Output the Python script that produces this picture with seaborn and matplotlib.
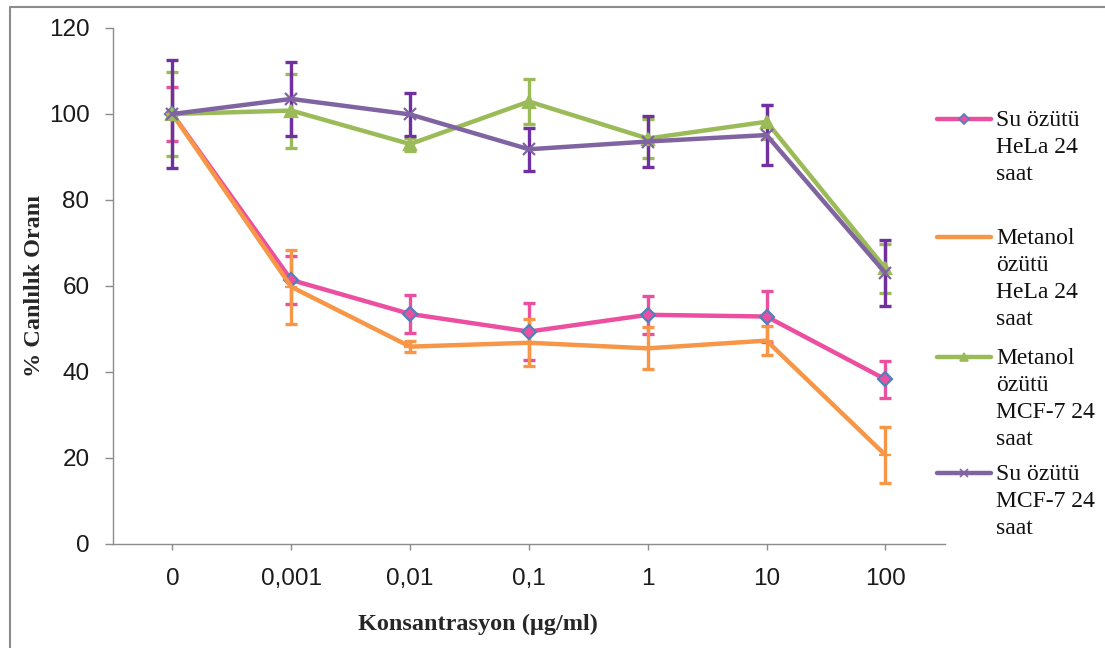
import matplotlib
matplotlib.use("Agg")
import matplotlib.pyplot as plt
from matplotlib.lines import Line2D
import seaborn as sns
import pandas as pd

# Concentration categories (µg/ml)
konsantrasyon = ["0", "0,001", "0,01", "0,1", "1", "10", "100"]

# % viability
su_hela = [100, 61.4, 53.5, 49.4, 53.3, 52.9, 38.3]
su_hela_err = [6.2, 5.6, 4.4, 6.7, 4.4, 6.0, 4.3]

metanol_hela = [100, 59.8, 45.9, 46.8, 45.5, 47.3, 20.7]
metanol_hela_err = [0.0, 8.6, 1.2, 5.5, 4.9, 3.3, 6.4]

metanol_mcf7 = [100, 100.8, 93.0, 102.9, 94.3, 98.2, 64.1]
metanol_mcf7_err = [9.8, 8.6, 1.5, 5.3, 4.5, 4.0, 5.7]

su_mcf7 = [100, 103.5, 99.9, 91.8, 93.6, 95.1, 63.0]
su_mcf7_err = [12.6, 8.6, 5.0, 5.0, 5.9, 7.0, 7.6]

series_names = ["Su özütü\nHeLa 24\nsaat",
                "Metanol\nözütü\nHeLa 24\nsaat",
                "Metanol\nözütü\nMCF-7 24\nsaat",
                "Su özütü\nMCF-7 24\nsaat"]

sns.set_style("white")
plt.rcParams["font.family"] = ["Liberation Serif", "DejaVu Serif"]

# colours / markers per series: line, errorbar, marker, marker face, marker edge, size
styles = [
    ("#EC4FA0", "#EC4FA0", "D", "#EC4FA0", "#4F81BD", 7.5),
    ("#F79646", "#F79646", "_", "#F79646", "#F79646", 9),
    ("#9BBB59", "#9BBB59", "^", "#9BBB59", "#9BBB59", 8),
    ("#8064A2", "#7030A0", "x", "#8064A2", "#8064A2", 8),
]

values = [su_hela, metanol_hela, metanol_mcf7, su_mcf7]
errors = [su_hela_err, metanol_hela_err, metanol_mcf7_err, su_mcf7_err]

rows = []
for name, vals, errs in zip(series_names, values, errors):
    for i, (v, e) in enumerate(zip(vals, errs)):
        rows.append({"seri": name, "x": i, "kons": konsantrasyon[i], "oran": v, "err": e})
df = pd.DataFrame(rows)

fig = plt.figure(figsize=(11.05, 6.48), dpi=100)
ax = fig.add_axes([0.1023, 0.1605, 0.7527, 0.7963])

for name, st in zip(series_names, styles):
    d = df[df["seri"] == name]
    ax.errorbar(d["x"], d["oran"], yerr=d["err"], fmt="none", ecolor=st[1],
                elinewidth=2.4, capsize=4.5, capthick=2.4, zorder=2)

for name, st in zip(series_names, styles):
    d = df[df["seri"] == name]
    sns.lineplot(data=d, x="x", y="oran", ax=ax, color=st[0], linewidth=3.2,
                 marker=st[2], markersize=st[5], markerfacecolor=st[3],
                 markeredgecolor=st[4], markeredgewidth=1.6, zorder=3,
                 legend=False)

ax.set_xlim(-0.5, 6.5)
ax.set_ylim(0, 120)
ax.set_yticks(range(0, 121, 20))
ax.set_xticks(range(len(konsantrasyon)))
ax.set_xticklabels(konsantrasyon)

for sp in ["top", "right"]:
    ax.spines[sp].set_visible(False)
for sp in ["left", "bottom"]:
    ax.spines[sp].set_color("#8C8C8C")
    ax.spines[sp].set_linewidth(1.0)

ax.tick_params(axis="both", direction="out", color="#8C8C8C", width=1.0,
               labelsize=17.5, labelcolor="#1a1a1a", bottom=True, left=True)
ax.tick_params(axis="y", length=6, pad=11)
ax.tick_params(axis="x", length=4, pad=13)
for lab in ax.get_xticklabels() + ax.get_yticklabels():
    lab.set_family("Liberation Sans")

ax.set_xlabel("Konsantrasyon (µg/ml)", fontsize=17.5, fontweight="bold")
ax.set_ylabel("% Canlılık Oranı", fontsize=17.5, fontweight="bold")
ax.xaxis.set_label_coords(0.439, -0.136)
ax.yaxis.set_label_coords(-0.082, 0.5)

# Excel-style legend on the right
W, H = 1105, 648
handle_y = [119, 237, 357, 473]
for name, st, hy in zip(series_names, styles, handle_y):
    yf = 1 - hy / H
    fig.add_artist(Line2D([937 / W, 991 / W], [yf, yf], color=st[0], linewidth=3.2))
    fig.add_artist(Line2D([964 / W], [yf], marker=st[2], markersize=st[5] - 2,
                          markerfacecolor=st[3], markeredgecolor=st[4],
                          markeredgewidth=1.2, linestyle="none"))
    fig.text(996 / W, 1 - (hy - 9) / H, name, fontsize=17, va="top", ha="left",
             linespacing=1.38, color="#111111")

# outer frame edges visible in the screenshot
fig.add_artist(Line2D([10 / W, 10 / W], [0, 1 - 7 / H], color="#8C8C8C", linewidth=1.5))
fig.add_artist(Line2D([10 / W, 1], [1 - 7 / H, 1 - 7 / H], color="#8C8C8C", linewidth=1.5))

fig.savefig("out.png", dpi=100)
